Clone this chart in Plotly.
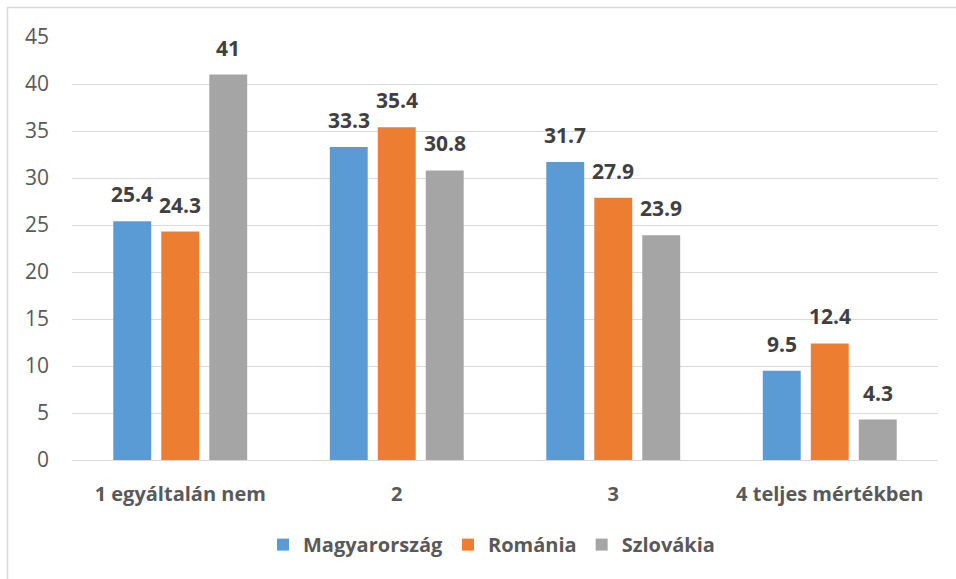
import plotly.graph_objects as go

categories = ["1 egyáltalán nem", "2", "3", "4 teljes mértékben"]
magyarorszag = [25.4, 33.3, 31.7, 9.5]
romania = [24.3, 35.4, 27.9, 12.4]
szlovakia = [41, 30.8, 23.9, 4.3]
y_ticks = [0, 5, 10, 15, 20, 25, 30, 35, 40, 45]

series = [
    ("Magyarország", magyarorszag, "#5B9BD5"),
    ("Románia", romania, "#ED7D31"),
    ("Szlovákia", szlovakia, "#A5A5A5"),
]

FONT = "Open Sans"
BAR_STEP_PX = 48  # centre-to-centre distance of bars within a group

fig = go.Figure()
annotations = []
for s_idx, (name, vals, color) in enumerate(series):
    fig.add_trace(go.Bar(
        x=categories, y=vals, name=name,
        marker=dict(color=color, line=dict(width=0)),
    ))
    for c_idx, v in enumerate(vals):
        annotations.append(dict(
            x=c_idx, y=v, xref="x", yref="y", text=f"<b>{v:g}</b>",
            showarrow=False, yanchor="bottom", xshift=(s_idx - 1) * BAR_STEP_PX, yshift=11,
            font=dict(family=FONT, size=21, color="#404040"),
        ))

fig.update_layout(
    width=956, height=579,
    margin=dict(l=72, r=18, t=37, b=119),
    paper_bgcolor="white", plot_bgcolor="white",
    barmode="group", bargap=0.335, bargroupgap=0.21,
    showlegend=True,
    annotations=annotations,
    legend=dict(orientation="h", x=0.4844, xanchor="center", y=-0.2, yanchor="middle",
                font=dict(family=FONT, size=20, color="#595959", weight="bold"),
                itemsizing="constant", traceorder="normal"),
    xaxis=dict(showgrid=False, showline=False, ticks="", ticklabelstandoff=20,
               tickfont=dict(family=FONT, size=20, color="#595959", weight="bold")),
    yaxis=dict(range=[0, 45], tickvals=y_ticks, showgrid=True, gridcolor="#D9D9D9", gridwidth=1,
               zeroline=True, zerolinecolor="#D9D9D9", zerolinewidth=1, showline=False,
               ticks="", ticklabelstandoff=22,
               tickfont=dict(family=FONT, size=21, color="#595959")),
    shapes=[dict(type="rect", xref="paper", yref="paper",
                 x0=-0.0745, x1=1.1, y0=-0.35, y1=1.0697,
                 line=dict(color="#D9D9D9", width=1.5), fillcolor="rgba(0,0,0,0)", layer="below")],
)

fig.write_html("out.html")
